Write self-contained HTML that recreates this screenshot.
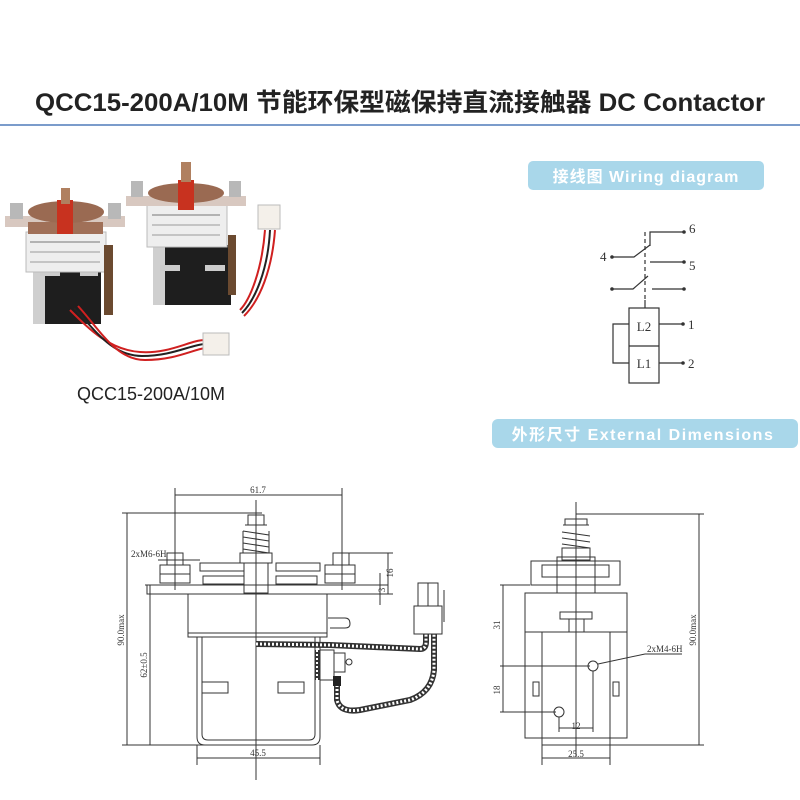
<!DOCTYPE html>
<html><head><meta charset="utf-8"><style>
html,body{margin:0;padding:0;background:#fff;}
svg{display:block;}
text{font-family:"Liberation Serif","Noto Serif CJK SC",serif;}
</style></head><body>
<svg width="800" height="800" viewBox="0 0 800 800" xmlns="http://www.w3.org/2000/svg">
<rect width="800" height="800" fill="#fff"/>
<!-- Title -->
<text x="400" y="111" text-anchor="middle" font-size="25" font-weight="bold" fill="#222" style='font-family:"Liberation Sans","Noto Sans CJK SC",sans-serif' textLength="730" lengthAdjust="spacingAndGlyphs">QCC15-200A/10M 节能环保型磁保持直流接触器 DC Contactor</text>
<rect x="0" y="124" width="800" height="2" fill="#7b9ccb"/>

<!-- Badges -->
<rect x="528" y="161" width="236" height="29" rx="5" fill="#a9d7ea"/>
<text x="646" y="182" text-anchor="middle" font-size="16" font-weight="bold" fill="#fff" style='font-family:"Liberation Sans","Noto Sans CJK SC",sans-serif' letter-spacing="1">接线图 Wiring diagram</text>
<rect x="492" y="419" width="306" height="29" rx="6" fill="#a9d7ea"/>
<text x="643" y="440" text-anchor="middle" font-size="16" font-weight="bold" fill="#fff" style='font-family:"Liberation Sans","Noto Sans CJK SC",sans-serif' letter-spacing="1.5">外形尺寸 External Dimensions</text>

<!-- Photo approximation -->
<g>
 <!-- back contactor -->
 <rect x="153" y="245" width="78" height="60" fill="#1e1e1e"/>
 <rect x="153" y="245" width="12" height="60" fill="#cfcfcf"/>
 <rect x="160" y="265" width="20" height="6" fill="#ccc"/><rect x="205" y="265" width="20" height="6" fill="#ccc"/>
 <rect x="147" y="205" width="80" height="42" fill="#eeeeee" stroke="#bbb"/>
 <line x1="152" y1="215" x2="220" y2="215" stroke="#777"/><line x1="152" y1="225" x2="220" y2="225" stroke="#999"/><line x1="152" y1="235" x2="220" y2="235" stroke="#999"/>
 <rect x="126" y="196" width="120" height="10" fill="#d8c8c0"/>
 <ellipse cx="186" cy="193" rx="38" ry="10" fill="#9a6a52"/>
 <rect x="178" y="180" width="16" height="30" fill="#c8321f"/>
 <rect x="181" y="162" width="10" height="20" fill="#b08060"/>
 <rect x="131" y="181" width="12" height="16" fill="#b8b8b8"/><rect x="229" y="181" width="12" height="16" fill="#b8b8b8"/>
 <rect x="228" y="235" width="8" height="60" fill="#6b4a30"/>
 <rect x="258" y="205" width="22" height="24" fill="#f4f0ea" stroke="#bbb"/>
 <path d="M265 230 C262 270 250 300 240 310" stroke="#d02020" stroke-width="2" fill="none"/>
 <path d="M270 230 C268 270 255 300 242 313" stroke="#222" stroke-width="2" fill="none"/>
 <path d="M275 230 C272 270 260 300 244 316" stroke="#d02020" stroke-width="2" fill="none"/>
 <!-- front contactor -->
 <rect x="33" y="238" width="68" height="86" fill="#1e1e1e"/>
 <rect x="33" y="238" width="12" height="86" fill="#cfcfcf"/>
 <rect x="40" y="270" width="20" height="6" fill="#ccc"/><rect x="80" y="270" width="18" height="6" fill="#ccc"/>
 <rect x="26" y="232" width="80" height="40" fill="#eeeeee" stroke="#bbb"/>
 <line x1="30" y1="242" x2="100" y2="242" stroke="#777"/><line x1="30" y1="252" x2="100" y2="252" stroke="#999"/><line x1="30" y1="262" x2="100" y2="262" stroke="#999"/>
 <rect x="5" y="216" width="120" height="11" fill="#d8c8c0"/>
 <rect x="28" y="222" width="75" height="12" fill="#a07058"/>
 <ellipse cx="66" cy="212" rx="38" ry="11" fill="#9a6a52"/>
 <rect x="57" y="200" width="16" height="34" fill="#c8321f"/>
 <rect x="61" y="188" width="9" height="16" fill="#b08060"/>
 <rect x="10" y="203" width="13" height="16" fill="#b8b8b8"/><rect x="108" y="203" width="13" height="16" fill="#b8b8b8"/>
 <rect x="104" y="245" width="9" height="70" fill="#6b4a30"/>
 <path d="M70 310 C90 330 110 350 140 352 C170 354 190 340 205 340" stroke="#d02020" stroke-width="2" fill="none"/>
 <path d="M74 308 C95 330 112 356 142 356 C172 356 190 345 205 344" stroke="#222" stroke-width="2" fill="none"/>
 <path d="M78 306 C100 330 116 360 145 360 C175 360 192 350 205 348" stroke="#d02020" stroke-width="2" fill="none"/>
 <rect x="203" y="333" width="26" height="22" fill="#f4f0ea" stroke="#bbb"/>
</g>
<text x="151" y="400" text-anchor="middle" font-size="18" fill="#222" style='font-family:"Liberation Sans",sans-serif'>QCC15-200A/10M</text>

<!-- Wiring diagram -->
<g stroke="#333" stroke-width="1.2" fill="none">
 <line x1="645" y1="232" x2="645" y2="300" stroke-dasharray="4,3"/>
 <line x1="645" y1="300" x2="645" y2="308"/>
 <polyline points="650,246 650,232 684,232"/>
 <polyline points="612,257 634,257 650,245"/>
 <line x1="650" y1="262" x2="684" y2="262"/>
 <polyline points="612,289 633,289 648,276"/>
 <line x1="652" y1="289" x2="684" y2="289"/>
 <rect x="629" y="308" width="30" height="75"/>
 <line x1="629" y1="346" x2="659" y2="346"/>
 <polyline points="629,324 613,324 613,363 629,363"/>
 <line x1="659" y1="324" x2="683" y2="324"/>
 <line x1="659" y1="363" x2="683" y2="363"/>
</g>
<g fill="#333">
 <circle cx="684" cy="232" r="1.8"/><circle cx="612" cy="257" r="1.8"/><circle cx="684" cy="262" r="1.8"/>
 <circle cx="612" cy="289" r="1.8"/><circle cx="684" cy="289" r="1.8"/><circle cx="683" cy="324" r="1.8"/><circle cx="683" cy="363" r="1.8"/>
</g>
<g font-size="13" fill="#333">
 <text x="689" y="233">6</text><text x="600" y="261">4</text><text x="689" y="270">5</text>
 <text x="644" y="331" text-anchor="middle">L2</text><text x="644" y="368" text-anchor="middle">L1</text>
 <text x="688" y="329">1</text><text x="688" y="368">2</text>
</g>

<!-- Front view -->
<g stroke="#333" stroke-width="1" fill="none">
 <line x1="175" y1="488" x2="175" y2="590"/><line x1="342" y1="488" x2="342" y2="590"/>
 <line x1="175" y1="495" x2="342" y2="495"/>
 <line x1="122" y1="513" x2="262" y2="513"/>
 <line x1="127" y1="513" x2="127" y2="745"/>
 <line x1="145" y1="585" x2="160" y2="585"/>
 <line x1="150" y1="585" x2="150" y2="745"/>
 <line x1="122" y1="745" x2="260" y2="745"/>
 <line x1="256" y1="500" x2="256" y2="780"/>
 <rect x="147" y="585" width="241" height="9"/>
 <rect x="188" y="594" width="139" height="43"/>
 <line x1="188" y1="633" x2="327" y2="633"/>
 <path d="M197 637 V737 Q197 745 205 745 H312 Q320 745 320 737 V637"/>
 <path d="M202 637 V734 Q202 740 208 740 H309 Q315 740 315 734 V637"/>
 <rect x="202" y="682" width="26" height="11"/><rect x="278" y="682" width="26" height="11"/>
 <rect x="160" y="565" width="30" height="18"/><line x1="160" y1="574" x2="190" y2="574"/>
 <rect x="167" y="553" width="16" height="12"/>
 <rect x="325" y="565" width="30" height="18"/><line x1="325" y1="574" x2="355" y2="574"/>
 <rect x="333" y="553" width="16" height="12"/>
 <rect x="200" y="563" width="44" height="8"/><rect x="203" y="576" width="41" height="8"/>
 <rect x="276" y="563" width="44" height="8"/><rect x="276" y="576" width="41" height="8"/>
 <rect x="240" y="553" width="32" height="10"/>
 <rect x="244" y="563" width="24" height="30"/>
 <path d="M245 525 H267 M243 531 L269 535 M243 537 L269 541 M243 543 L269 547 M243 549 L269 553 M243 531 V553 M269 531 V553"/>
 <rect x="248" y="515" width="16" height="10"/>
 <line x1="256" y1="505" x2="256" y2="515"/>
 <path d="M328 618 H345 Q350 618 350 624 Q350 628 345 628 H330"/>
 <line x1="348" y1="553" x2="393" y2="553"/><line x1="388" y1="553" x2="388" y2="594"/>
 <line x1="360" y1="594" x2="393" y2="594"/>
 <line x1="378" y1="585" x2="385" y2="585"/><line x1="380" y1="573" x2="380" y2="605"/>
 <line x1="197" y1="745" x2="197" y2="765"/><line x1="320" y1="745" x2="320" y2="765"/>
 <line x1="197" y1="758" x2="320" y2="758"/>
 <rect x="418" y="583" width="20" height="23"/><line x1="428" y1="583" x2="428" y2="606"/>
 <rect x="414" y="606" width="28" height="28"/>
 <line x1="444" y1="590" x2="444" y2="622"/>
 <rect x="320" y="650" width="14" height="30"/>
 <path d="M334 653 H345 V672 H334"/>
 <circle cx="349" cy="662" r="3"/>
 <line x1="158" y1="560" x2="200" y2="560"/>
</g>
<g fill="none">
 <path d="M256 644 L330 645 L420 649 Q426 649 426 642 V634" stroke="#333" stroke-width="6"/>
 <path d="M256 644 L330 645 L420 649 Q426 649 426 642 V634" stroke="#fff" stroke-width="3" stroke-dasharray="2,2"/>
 <path d="M337 685 V700 Q340 713 360 710 L410 700 Q432 692 434 670 V634" stroke="#333" stroke-width="6"/>
 <path d="M337 685 V700 Q340 713 360 710 L410 700 Q432 692 434 670 V634" stroke="#fff" stroke-width="3" stroke-dasharray="2,2"/>
 <path d="M317 650 V680" stroke="#333" stroke-width="5"/><path d="M317 650 V680" stroke="#fff" stroke-width="2" stroke-dasharray="2,2"/>
</g>
<rect x="333" y="676" width="8" height="10" fill="#222"/>
<g font-size="9" fill="#333">
 <text x="258" y="493" text-anchor="middle">61.7</text>
 <text x="131" y="557">2xM6-6H</text>
 <text x="258" y="756" text-anchor="middle">45.5</text>
 <text transform="translate(124,630) rotate(-90)" text-anchor="middle">90.0max</text>
 <text transform="translate(147,665) rotate(-90)" text-anchor="middle">62±0.5</text>
 <text transform="translate(393,573) rotate(-90)" text-anchor="middle">16</text>
 <text transform="translate(385,590) rotate(-90)" text-anchor="middle">3</text>
</g>

<!-- Side view -->
<g stroke="#333" stroke-width="1" fill="none">
 <line x1="576" y1="502" x2="576" y2="757"/>
 <line x1="576" y1="514" x2="704" y2="514"/>
 <line x1="699" y1="514" x2="699" y2="745"/>
 <line x1="542" y1="745" x2="704" y2="745"/>
 <line x1="500" y1="585" x2="530" y2="585"/>
 <line x1="503" y1="585" x2="503" y2="712"/>
 <line x1="500" y1="666" x2="590" y2="666"/>
 <line x1="500" y1="712" x2="556" y2="712"/>
 <rect x="525" y="593" width="102" height="39"/>
 <rect x="525" y="632" width="102" height="106"/>
 <rect x="542" y="632" width="68" height="113"/>
 <rect x="531" y="561" width="89" height="24"/>
 <rect x="542" y="565" width="67" height="12"/>
 <rect x="557" y="557" width="38" height="36"/>
 <rect x="560" y="612" width="32" height="7"/>
 <rect x="569" y="619" width="15" height="13"/>
 <rect x="562" y="548" width="28" height="12"/>
 <path d="M563 525 H589 M562 532 L590 536 M562 538 L590 542 M562 544 L590 548 M565 519 H587 V525 H565 Z"/>
 <rect x="533" y="682" width="6" height="14"/><rect x="613" y="682" width="6" height="14"/>
 <circle cx="593" cy="666" r="5"/><circle cx="559" cy="712" r="5"/>
 <line x1="593" y1="671" x2="593" y2="732"/><line x1="559" y1="717" x2="559" y2="732"/>
 <line x1="559" y1="728" x2="593" y2="728"/>
 <line x1="542" y1="745" x2="542" y2="765"/><line x1="610" y1="745" x2="610" y2="765"/>
 <line x1="542" y1="758" x2="610" y2="758"/>
 <line x1="598" y1="664" x2="645" y2="654"/><line x1="645" y1="654" x2="682" y2="654"/>
</g>
<g font-size="9" fill="#333">
 <text x="647" y="652">2xM4-6H</text>
 <text x="576" y="729" text-anchor="middle">12</text>
 <text x="576" y="757" text-anchor="middle">25.5</text>
 <text transform="translate(500,625) rotate(-90)" text-anchor="middle">31</text>
 <text transform="translate(500,690) rotate(-90)" text-anchor="middle">18</text>
 <text transform="translate(696,630) rotate(-90)" text-anchor="middle">90.0max</text>
</g>
</svg>
</body></html>
